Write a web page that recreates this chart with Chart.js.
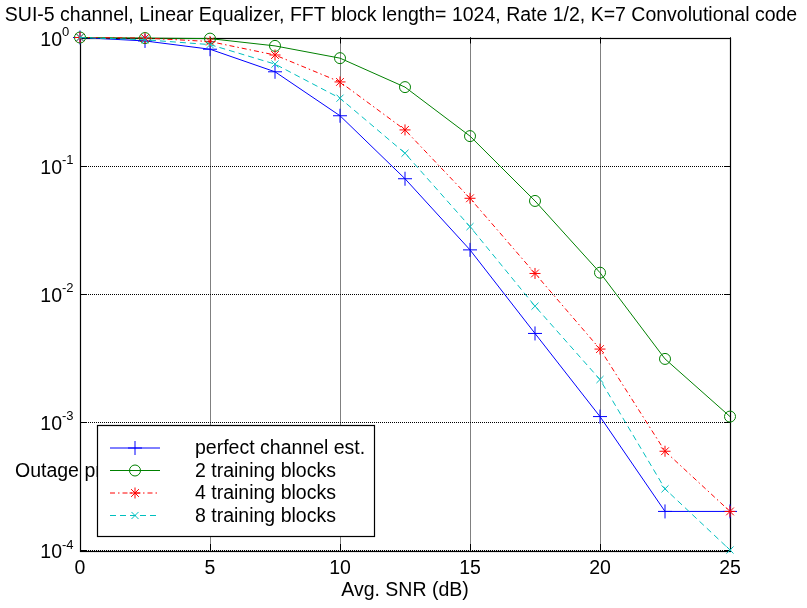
<!DOCTYPE html>
<html>
<head>
<meta charset="utf-8">
<script src="https://cdn.jsdelivr.net/npm/chart.js@4.4.1/dist/chart.umd.min.js"></script>
<style>
  html, body { margin: 0; padding: 0; background: #fff; }
  #chart { display: block; }
</style>
</head>
<body>
<canvas id="chart" width="807" height="608"></canvas>
<script>
// ---- data ----
const snr = [0, 2.5, 5, 7.5, 10, 12.5, 15, 17.5, 20, 22.5, 25];
const perfectEst = [1.0, 0.94, 0.81, 0.54, 0.245, 0.079, 0.022, 0.0049, 0.0011, 0.0002, 0.0002];
const train2 = [1.0, 0.99, 0.98, 0.86, 0.69, 0.41, 0.17, 0.053, 0.0146, 0.0031, 0.0011];
const train4 = [1.0, 0.99, 0.93, 0.73, 0.45, 0.19, 0.0556, 0.0144, 0.0037, 0.00059, 0.0002];
const train8 = [1.0, 0.96, 0.88, 0.62, 0.336, 0.125, 0.0334, 0.008, 0.00214, 0.0003, 0.0001];

const seriesLabels = ['perfect channel est.', '2 training blocks', '4 training blocks', '8 training blocks'];
const xTicks = [0, 5, 10, 15, 20, 25];
const yTicks = [1, 0.1, 0.01, 0.001, 0.0001];
const yTickExp = ['0', '-1', '-2', '-3', '-4'];

const titleText = 'SUI-5 channel, Linear Equalizer, FFT block length= 1024, Rate 1/2, K=7 Convolutional code';
const xTitle = 'Avg. SNR (dB)';
const yTitle = 'Outage probability';

const FONT = 'Arial, "Liberation Sans", sans-serif';
const FS = '19.5px ';

function pts(vals) {
    return snr.map((x, i) => ({ x: x, y: vals[i] }));
}

// draw one MATLAB-like marker
function drawMarker(ctx, style, x, y, r, color) {
    ctx.save();
    ctx.strokeStyle = color;
    ctx.lineWidth = 1;
    ctx.setLineDash([]);
    ctx.beginPath();
    if (style === 'cross' || style === 'star') {
        ctx.moveTo(x - r, y); ctx.lineTo(x + r, y);
        ctx.moveTo(x, y - r); ctx.lineTo(x, y + r);
    }
    if (style === 'crossRot' || style === 'star') {
        const d = r * Math.SQRT1_2;
        ctx.moveTo(x - d, y - d); ctx.lineTo(x + d, y + d);
        ctx.moveTo(x - d, y + d); ctx.lineTo(x + d, y - d);
    }
    if (style === 'circle') {
        ctx.arc(x, y, r, 0, Math.PI * 2);
    }
    ctx.stroke();
    ctx.restore();
}

const axesPlugin = {
    id: 'matlabAxes',
    beforeDatasetsDraw(chart) {
        const { ctx, chartArea: a, scales } = chart;
        const xs = scales.x, ys = scales.y;
        ctx.save();
        // dotted grid
        ctx.strokeStyle = '#000';
        ctx.lineWidth = 1;
        ctx.setLineDash([1, 1]);
        ctx.beginPath();
        xTicks.forEach(v => {
            const px = Math.round(xs.getPixelForValue(v)) + 0.5;
            ctx.moveTo(px, a.top); ctx.lineTo(px, a.bottom);
        });
        yTicks.forEach(v => {
            const py = Math.round(ys.getPixelForValue(v)) + 0.5;
            ctx.moveTo(a.left, py); ctx.lineTo(a.right, py);
        });
        ctx.stroke();
        ctx.setLineDash([]);

        // box
        ctx.lineWidth = 1.2;
        ctx.strokeRect(Math.round(a.left) + 0.5, Math.round(a.top) + 0.5,
            Math.round(a.right - a.left), Math.round(a.bottom - a.top));

        // inward ticks
        ctx.lineWidth = 1;
        ctx.beginPath();
        xTicks.forEach(v => {
            const px = Math.round(xs.getPixelForValue(v)) + 0.5;
            ctx.moveTo(px, a.bottom); ctx.lineTo(px, a.bottom - 6);
            ctx.moveTo(px, a.top); ctx.lineTo(px, a.top + 6);
        });
        yTicks.forEach(v => {
            const py = Math.round(ys.getPixelForValue(v)) + 0.5;
            ctx.moveTo(a.left, py); ctx.lineTo(a.left + 6, py);
            ctx.moveTo(a.right, py); ctx.lineTo(a.right - 6, py);
        });
        ctx.stroke();

        // tick labels
        ctx.fillStyle = '#000';
        ctx.font = FS + FONT;
        ctx.textAlign = 'center';
        ctx.textBaseline = 'alphabetic';
        xTicks.forEach(v => {
            ctx.fillText(String(v), xs.getPixelForValue(v), a.bottom + 24);
        });
        yTicks.forEach((v, i) => {
            const py = ys.getPixelForValue(v);
            ctx.font = FS + FONT;
            ctx.textAlign = 'right';
            ctx.fillText('10', a.left - 18, py + 8);
            ctx.font = '13px ' + FONT;
            ctx.textAlign = 'left';
            ctx.fillText(yTickExp[i], a.left - 18, py - 1.5);
        });

        // titles
        ctx.font = FS + FONT;
        ctx.textAlign = 'center';
        ctx.fillText(titleText, 401, 21);
        ctx.fillText(xTitle, (a.left + a.right) / 2, 596);
        ctx.textAlign = 'left';
        ctx.fillText(yTitle, 15, 477);
        ctx.restore();
    },
    afterDatasetsDraw(chart) {
        const { ctx } = chart;
        const lx = 97.5, ly = 425.5, lw = 277, lh = 111;
        ctx.save();
        ctx.fillStyle = '#fff';
        ctx.fillRect(lx, ly, lw, lh);
        ctx.strokeStyle = '#000';
        ctx.lineWidth = 1.2;
        ctx.strokeRect(lx, ly, lw, lh);
        ctx.font = FS + FONT;
        ctx.textAlign = 'left';
        ctx.textBaseline = 'middle';
        chart.data.datasets.forEach((ds, i) => {
            const y = 448 + i * 22.5;
            ctx.strokeStyle = ds.borderColor;
            ctx.lineWidth = 1;
            ctx.setLineDash(ds.borderDash || []);
            ctx.beginPath();
            ctx.moveTo(110, y); ctx.lineTo(160, y);
            ctx.stroke();
            ctx.setLineDash([]);
            drawMarker(ctx, ds.pointStyle, 135, y, ds.pointRadius, ds.borderColor);
            ctx.fillStyle = '#000';
            ctx.fillText(ds.label, 195, y + 1);
        });
        ctx.restore();
    }
};

const styles = [
    { color: '#0000ff', dash: [], marker: 'cross', r: 7 },
    { color: '#008000', dash: [], marker: 'circle', r: 5.5 },
    { color: '#ff0000', dash: [5, 3, 1.5, 3], marker: 'star', r: 5.5 },
    { color: '#00bfbf', dash: [6, 4], marker: 'crossRot', r: 5 }
];
const values = [perfectEst, train2, train4, train8];

const datasets = values.map((vals, i) => ({
    label: seriesLabels[i],
    data: pts(vals),
    borderColor: styles[i].color,
    borderWidth: 1,
    borderDash: styles[i].dash,
    pointStyle: styles[i].marker,
    pointRadius: styles[i].r,
    pointBorderColor: styles[i].color,
    pointBackgroundColor: 'rgba(0,0,0,0)',
    pointBorderWidth: 1,
    tension: 0,
    clip: false,
    order: 3 - i
}));

new Chart(document.getElementById('chart').getContext('2d'), {
    type: 'line',
    data: { datasets: datasets },
    options: {
        responsive: false,
        animation: false,
        layout: { padding: { left: 80, right: 77, top: 37.5, bottom: 58 } },
        plugins: {
            legend: { display: false },
            title: { display: false },
            tooltip: { enabled: false }
        },
        scales: {
            x: { type: 'linear', min: 0, max: 25, display: false },
            y: { type: 'logarithmic', min: 0.0001, max: 1, display: false }
        }
    },
    plugins: [axesPlugin]
});
</script>
</body>
</html>
